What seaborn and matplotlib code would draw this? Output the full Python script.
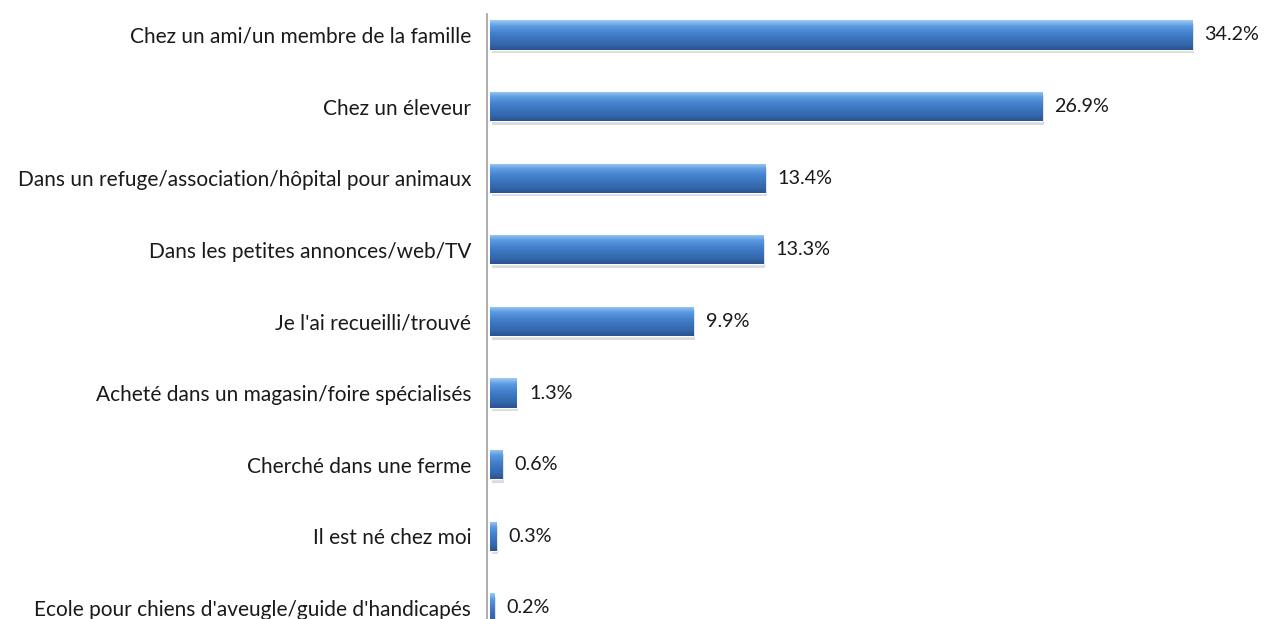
import numpy as np
import pandas as pd
import matplotlib
matplotlib.use("Agg")
import matplotlib.pyplot as plt
import seaborn as sns
from matplotlib.colors import LinearSegmentedColormap

# data
categories = [
    "Chez un ami/un membre de la famille",
    "Chez un éleveur",
    "Dans un refuge/association/hôpital pour animaux",
    "Dans les petites annonces/web/TV",
    "Je l'ai recueilli/trouvé",
    "Acheté dans un magasin/foire spécialisés",
    "Cherché dans une ferme",
    "Il est né chez moi",
    "Ecole pour chiens d'aveugle/guide d'handicapés",
]
values = [34.2, 26.9, 13.4, 13.3, 9.9, 1.3, 0.6, 0.3, 0.2]

df = pd.DataFrame({"categorie": categories, "pct": values})

sns.set_style("white")
plt.rcParams["font.family"] = ["Lato", "DejaVu Sans"]

fig = plt.figure(figsize=(12.64, 6.19), dpi=100)
W, H = 1264, 619
ax = fig.add_axes([487 / W, 0, 1 - 487 / W, 1 - 14 / H])

sns.barplot(data=df, y="categorie", x="pct", orient="h", color="#3f78c0",
            width=0.41, saturation=1, ax=ax)

# gradient fill on each bar to mimic the bevelled look
grad = LinearSegmentedColormap.from_list(
    "bev", ["#9ccaf6", "#5b9ae0", "#4684d0", "#3b74bd", "#3568ad", "#2a5390"])
g = np.linspace(0, 1, 64).reshape(-1, 1)
bars = list(ax.patches)
for p in bars:
    x0, y0 = p.get_x(), p.get_y()
    w, h = p.get_width(), p.get_height()
    # soft shadow
    ax.add_patch(plt.Rectangle((x0 + 0.08, y0 + 0.05), w, h, color="#c4c4c4",
                               alpha=0.6, zorder=p.get_zorder() - 0.5, lw=0))
    im = ax.imshow(g, aspect="auto", cmap=grad, extent=(x0, x0 + w, y0 + h, y0),
                   zorder=p.get_zorder() + 0.1, interpolation="bilinear")
    im.set_clip_path(p)

for i, v in enumerate(values):
    ax.text(v + 0.6, i, f"{v:.1f}%", va="center", ha="left", fontsize=14.2,
            color="#1a1a1a")

ax.set_xlabel("")
ax.set_ylabel("")
ax.set_xticks([])
for s in ["top", "right", "bottom"]:
    ax.spines[s].set_visible(False)
ax.spines["left"].set_color("#a0a0a0")
ax.spines["left"].set_linewidth(1.2)

ax.set_yticks(np.arange(len(categories)) + 0.5, minor=True)
ax.tick_params(axis="y", which="minor", length=5, color="#a0a0a0", width=1.2)
ax.tick_params(axis="y", which="major", length=0, pad=11.5, labelsize=15,
               labelcolor="#1a1a1a")

ax.set_autoscale_on(False)
ax.set_xlim(-0.146, 37.7)
ax.set_ylim(8.156, -0.293)
ax.set_position([487 / W, 0, 1 - 487 / W, 1 - 14 / H])

fig.savefig("out.png", dpi=100)
